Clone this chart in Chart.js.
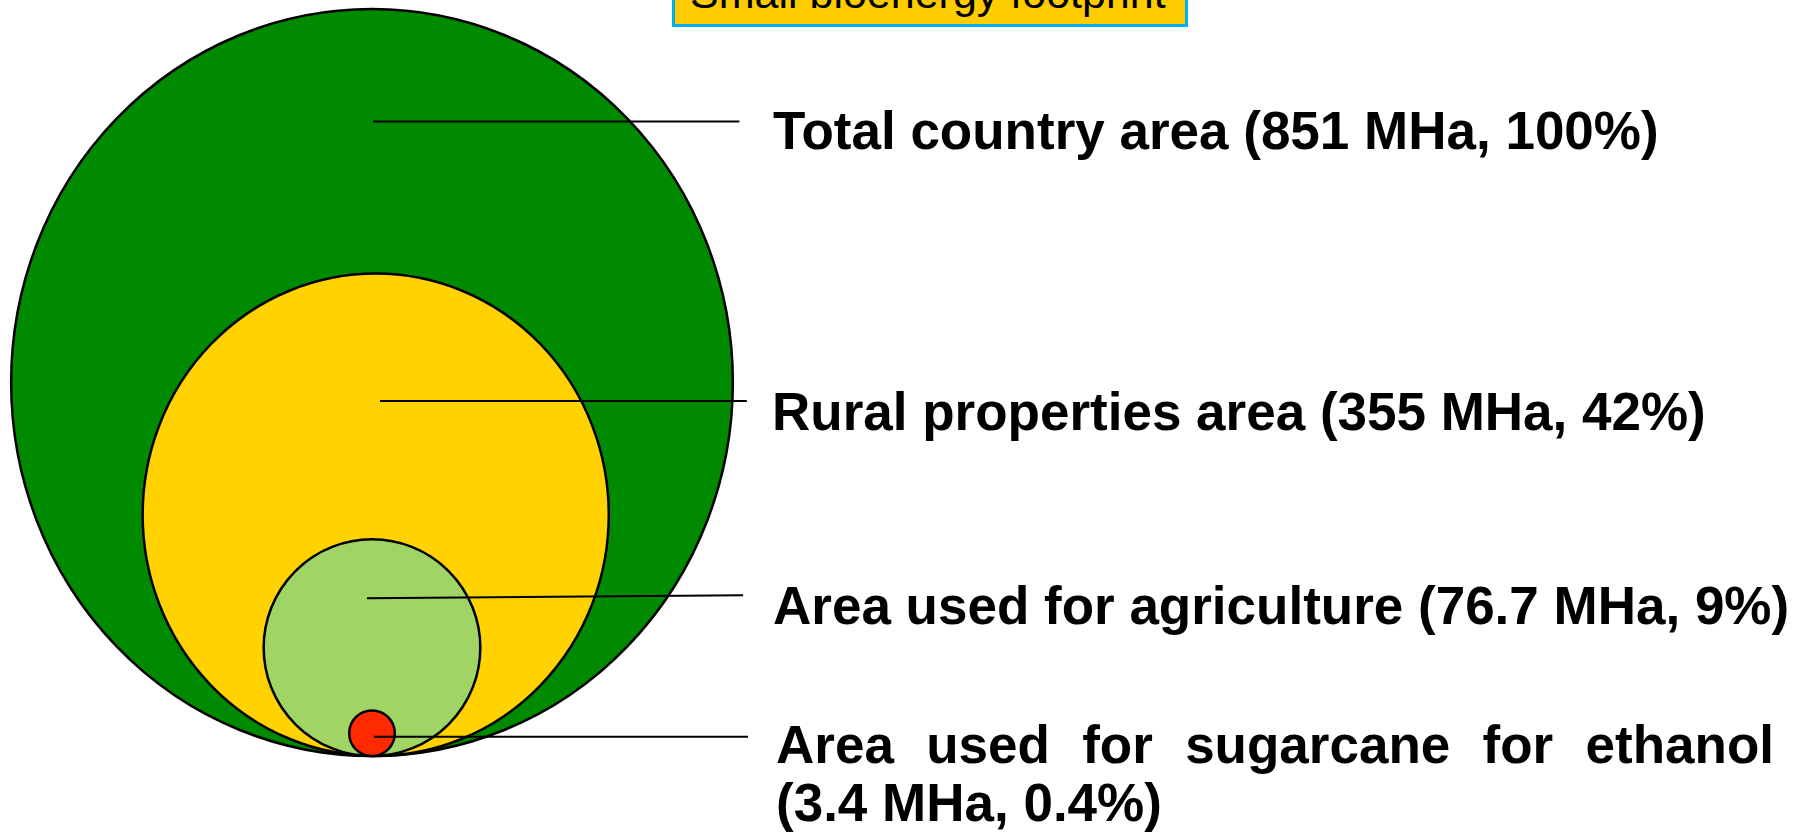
<!DOCTYPE html>
<html>
<head>
<meta charset="utf-8">
<script src="https://cdn.jsdelivr.net/npm/chart.js@4.4.0/dist/chart.umd.min.js"></script>
<style>
  html, body { margin: 0; padding: 0; background: #fff; overflow: hidden; }
  #wrap { position: relative; width: 1811px; height: 836px; }
  #c { position: absolute; left: 0; top: 0; }
  .label {
    position: absolute;
    font-family: "Liberation Sans", Arial, sans-serif;
    font-weight: bold;
    font-size: 53px;
    line-height: 53px;
    color: #000;
    white-space: nowrap;
  }
  .label.wrap { white-space: normal; text-align: justify; line-height: 58px; }
  #title {
    position: absolute;
    left: 672px; top: -40px;
    width: 516px; height: 67px;
    box-sizing: border-box;
    background: #FFCC00;
    border: 3px solid #00B0F0;
    font-family: "Liberation Sans", Arial, sans-serif;
    font-size: 43px;
    line-height: 43px;
    padding: 9px 0 0 15px;
    white-space: nowrap;
  }
</style>
</head>
<body>
<div id="wrap">
  <canvas id="c" width="1811" height="836"></canvas>
  <div id="title">Small bioenergy footprint</div>
</div>
<script>
// land areas (million hectares) and share of total
const categories = ['Total country area', 'Rural properties area', 'Area used for agriculture', 'Area used for sugarcane for ethanol'];
const areaMHa = [851, 355, 76.7, 3.4];
const sharePct = ['100%', '42%', '9%', '0.4%'];
const fillColors = ['#008A00', '#FFD200', '#A0D465', '#FF2A00'];

// leader lines, in axis units (radius units = sqrt(MHa))
const leaderY0 = [51.3, 28.7, 12.75, 1.55];
const leaderY1 = [51.3, 28.7, 13.0, 1.55];
const leaderX0 = [0.1, 0.65, -0.4, 0.15];
const leaderX1 = [29.7, 30.3, 30.0, 30.4];

// layout: pixels per radius unit and where the common bottom point sits
const PX_PER_UNIT = 12.37;
const ORIGIN_X = 372;
const ORIGIN_Y = 756;
const W = 1811, H = 836;
// small placement tweaks of the original drawing
const centreShiftX = [0, 0.3, 0, 0];
const stretchY = [1.035, 1.035, 1, 1];

// circles all touch at the bottom, so centre height = radius
const circleSets = areaMHa.map((a, i) => ({
    data: [{ x: centreShiftX[i], y: Math.sqrt(a) }],
    pointRadius: ctx => {
        const xs = ctx.chart.scales.x;
        const r = Math.sqrt(areaMHa[ctx.datasetIndex]);
        return Math.abs(xs.getPixelForValue(r) - xs.getPixelForValue(0));
    },
    pointBackgroundColor: fillColors[i],
    pointBorderColor: '#000',
    pointBorderWidth: 2.5,
    stretchY: stretchY[i],
    order: areaMHa.length - i,
    clip: false
}));

const leaderSets = leaderY0.map((y, i) => ({
    data: [{ x: leaderX0[i], y: y }, { x: leaderX1[i], y: leaderY1[i] }],
    showLine: true,
    borderColor: '#000',
    borderWidth: 2,
    pointRadius: 0,
    order: 0,
    clip: false
}));

const stretchPlugin = {
    id: 'stretch',
    beforeDatasetDraw(chart, args) {
        const s = chart.data.datasets[args.index].stretchY;
        if (!s) return;
        const ctx = chart.ctx;
        const y0 = chart.scales.y.getPixelForValue(0);
        ctx.save();
        ctx.translate(0, y0);
        ctx.scale(1, s);
        ctx.translate(0, -y0);
    },
    afterDatasetDraw(chart, args) {
        if (chart.data.datasets[args.index].stretchY) chart.ctx.restore();
    }
};

new Chart(document.getElementById('c'), {
    type: 'scatter',
    data: { datasets: [...circleSets, ...leaderSets] },
    options: {
        responsive: false,
        devicePixelRatio: 1,
        animation: false,
        events: [],
        layout: { padding: 0 },
        plugins: { legend: { display: false }, tooltip: { enabled: false } },
        scales: {
            x: { type: 'linear', display: false, min: -ORIGIN_X / PX_PER_UNIT, max: (W - ORIGIN_X) / PX_PER_UNIT },
            y: { type: 'linear', display: false, min: -(H - ORIGIN_Y) / PX_PER_UNIT, max: ORIGIN_Y / PX_PER_UNIT }
        }
    },
    plugins: [stretchPlugin]
});

// text labels next to the leader lines
const labelPos = [[773, 104], [772, 385], [773, 579], [776, 716]];
const wrap = document.getElementById('wrap');
categories.forEach((name, i) => {
    const div = document.createElement('div');
    div.className = 'label';
    div.textContent = `${name} (${areaMHa[i]} MHa, ${sharePct[i]})`;
    div.style.left = labelPos[i][0] + 'px';
    div.style.top = labelPos[i][1] + 'px';
    if (i === 3) {
        div.classList.add('wrap');
        div.style.width = '998px';
    }
    wrap.appendChild(div);
});
</script>
</body>
</html>
